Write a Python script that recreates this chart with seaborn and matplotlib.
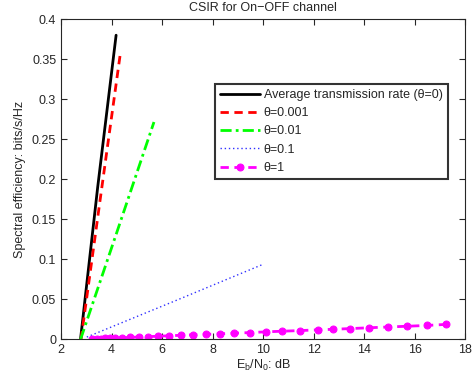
import numpy as np
import pandas as pd
import matplotlib
matplotlib.use('Agg')
import matplotlib.pyplot as plt
import seaborn as sns

sns.set_style("ticks")
plt.rcParams['font.family'] = ['Liberation Sans', 'DejaVu Sans']
plt.rcParams['mathtext.default'] = 'regular'

# curves (Eb/N0 in dB, spectral efficiency in bits/s/Hz)
ebn0_avg = [2.77, 3.45, 4.18]
se_avg = [0.0, 0.19, 0.38]

ebn0_t0001 = [2.79, 3.55, 4.36]
se_t0001 = [0.0, 0.175, 0.36]

ebn0_t001 = [2.77, 4.2, 5.68]
se_t001 = [0.0, 0.133, 0.2716]

ebn0_t01 = [3.02, 6.5, 10.01]
se_t01 = [0.003, 0.048, 0.094]

ebn0_t1 = [3.22, 3.41, 3.58, 3.76, 3.94, 4.14, 4.42, 4.74, 5.09, 5.45,
           5.82, 6.27, 6.74, 7.24, 7.75, 8.30, 8.86, 9.47, 10.11, 10.76,
           11.47, 12.17, 12.78, 13.46, 14.20, 14.96, 15.71, 16.48, 17.25]
se_t1 = [0.0005, 0.0008, 0.0011, 0.0013, 0.0016, 0.0018, 0.0022, 0.0026,
         0.0031, 0.0035, 0.0040, 0.0046, 0.0052, 0.0058, 0.0064, 0.0071,
         0.0078, 0.0086, 0.0095, 0.0103, 0.0111, 0.0120, 0.0127, 0.0136,
         0.0146, 0.0156, 0.0165, 0.0175, 0.0188]

labels = ['Average transmission rate (θ=0)', 'θ=0.001', 'θ=0.01', 'θ=0.1', 'θ=1']

fig = plt.figure(figsize=(4.77, 3.84), dpi=100)
ax = fig.add_axes([0.128, 0.116, 0.847, 0.834])

sns.lineplot(x=ebn0_avg, y=se_avg, ax=ax, color='black', lw=2,
             label=labels[0], sort=False)
sns.lineplot(x=ebn0_t0001, y=se_t0001, ax=ax, color='red', lw=2,
             label=labels[1], sort=False)
ax.lines[-1].set_linestyle((0, (3, 2)))
sns.lineplot(x=ebn0_t001, y=se_t001, ax=ax, color='#00ff00', lw=2,
             label=labels[2], sort=False)
ax.lines[-1].set_linestyle((0, (4, 1.5, 1, 1.5)))
sns.lineplot(x=ebn0_t01, y=se_t01, ax=ax, color='#3030ff', lw=1,
             label=labels[3], sort=False)
ax.lines[-1].set_linestyle((0, (1, 2)))
sns.lineplot(x=ebn0_t1, y=se_t1, ax=ax, color='#ff00ff', lw=2,
             marker='o', markersize=5, markeredgecolor='#ff00ff',
             label=labels[4], sort=False)
ax.lines[-1].set_linestyle((0, (3, 2)))

ax.set_xlim(2, 18)
ax.set_ylim(0, 0.4)
ax.set_xticks(np.arange(2, 19, 2))
ax.set_yticks(np.arange(0, 0.41, 0.05))
ax.set_yticklabels(['0', '0.05', '0.1', '0.15', '0.2', '0.25', '0.3', '0.35', '0.4'])
ax.tick_params(direction='in', top=True, right=True, labelsize=9, length=4, width=0.8)
for s in ax.spines.values():
    s.set_linewidth(0.8)
    s.set_visible(True)

ax.set_title('CSIR for On\u2212OFF channel', fontsize=9, pad=6)
ax.set_xlabel(r'E$_b$/N$_0$: dB', fontsize=9, labelpad=1)
ax.set_ylabel('Spectral efficiency: bits/s/Hz', fontsize=9, labelpad=4)

leg = ax.legend(loc='upper right', bbox_to_anchor=(0.957, 0.798), fontsize=9,
                frameon=True, fancybox=False, edgecolor='black',
                handlelength=3.2, borderpad=0.4, labelspacing=0.5,
                handletextpad=0.3, borderaxespad=0)
leg.get_frame().set_linewidth(1.5)

fig.savefig('out.png', dpi=100)
